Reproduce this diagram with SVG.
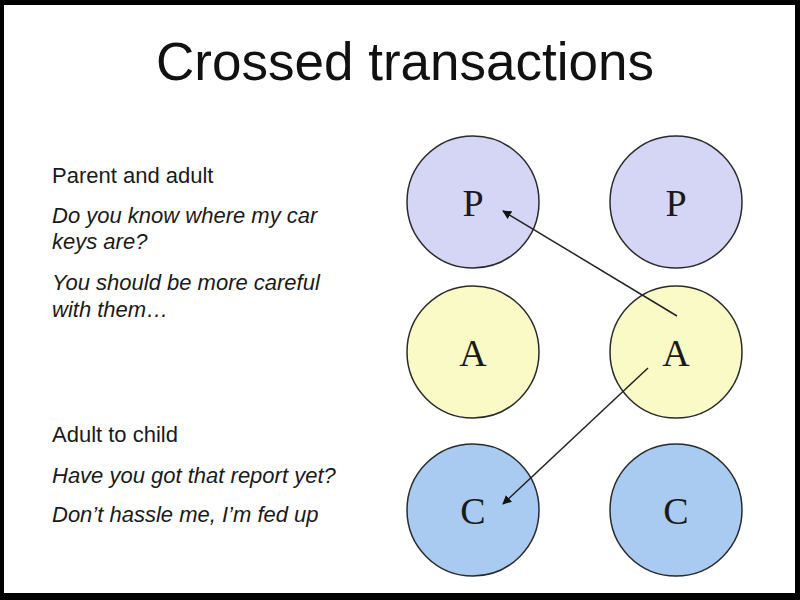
<svg xmlns="http://www.w3.org/2000/svg" width="800" height="600" viewBox="0 0 800 600">
<style>
.lbl{font-family:"Liberation Sans",Arial,sans-serif;font-size:22px;fill:#1a1a1a}
.it{font-style:italic}
.node circle{stroke:#2a2a2a;stroke-width:1.5}
.node text{font-family:"Liberation Serif","Times New Roman",serif;font-size:38px;fill:#1a1a1a;text-anchor:middle}
.p circle{fill:#d5d5f6}
.a circle{fill:#fafac6}
.c circle{fill:#a9cbf2}
.conn line{stroke:#222;stroke-width:1.5;marker-end:url(#ah)}
</style>
<defs>
<marker id="ah" viewBox="0 0 10 10" refX="9" refY="5" markerWidth="9" markerHeight="9" markerUnits="userSpaceOnUse" orient="auto">
<path d="M0,0 L10,5 L0,10 z" fill="#111"/>
</marker>
</defs>
<rect x="0" y="0" width="800" height="600" fill="#000"/>
<rect x="4" y="5" width="791" height="588" fill="#fff"/>
<text x="405" y="80" font-family="'Liberation Sans',Arial,sans-serif" font-size="53" text-anchor="middle" fill="#111">Crossed transactions</text>
<g id="text-left">
<text class="lbl" x="52" y="183">Parent and adult</text>
<text class="lbl it" x="52" y="223">Do you know where my car</text>
<text class="lbl it" x="52" y="249">keys are?</text>
<text class="lbl it" x="52" y="290">You should be more careful</text>
<text class="lbl it" x="52" y="317">with them…</text>
<text class="lbl" x="52" y="442">Adult to child</text>
<text class="lbl it" x="52" y="483">Have you got that report yet?</text>
<text class="lbl it" x="52" y="522">Don’t hassle me, I’m fed up</text>
</g>
<g id="node-p1" class="node p"><circle cx="473" cy="202" r="66"/><text x="473" y="216">P</text></g>
<g id="node-p2" class="node p"><circle cx="676" cy="202" r="66"/><text x="676" y="216">P</text></g>
<g id="node-a1" class="node a"><circle cx="473" cy="352" r="66"/><text x="473" y="366">A</text></g>
<g id="node-a2" class="node a"><circle cx="676" cy="352" r="66"/><text x="676" y="366">A</text></g>
<g id="node-c1" class="node c"><circle cx="473" cy="510" r="66"/><text x="473" y="524">C</text></g>
<g id="node-c2" class="node c"><circle cx="676" cy="510" r="66"/><text x="676" y="524">C</text></g>
<g id="connectors" class="conn">
<line x1="677" y1="316" x2="503" y2="211"/>
<line x1="648" y1="368" x2="503" y2="504"/>
</g>
</svg>
